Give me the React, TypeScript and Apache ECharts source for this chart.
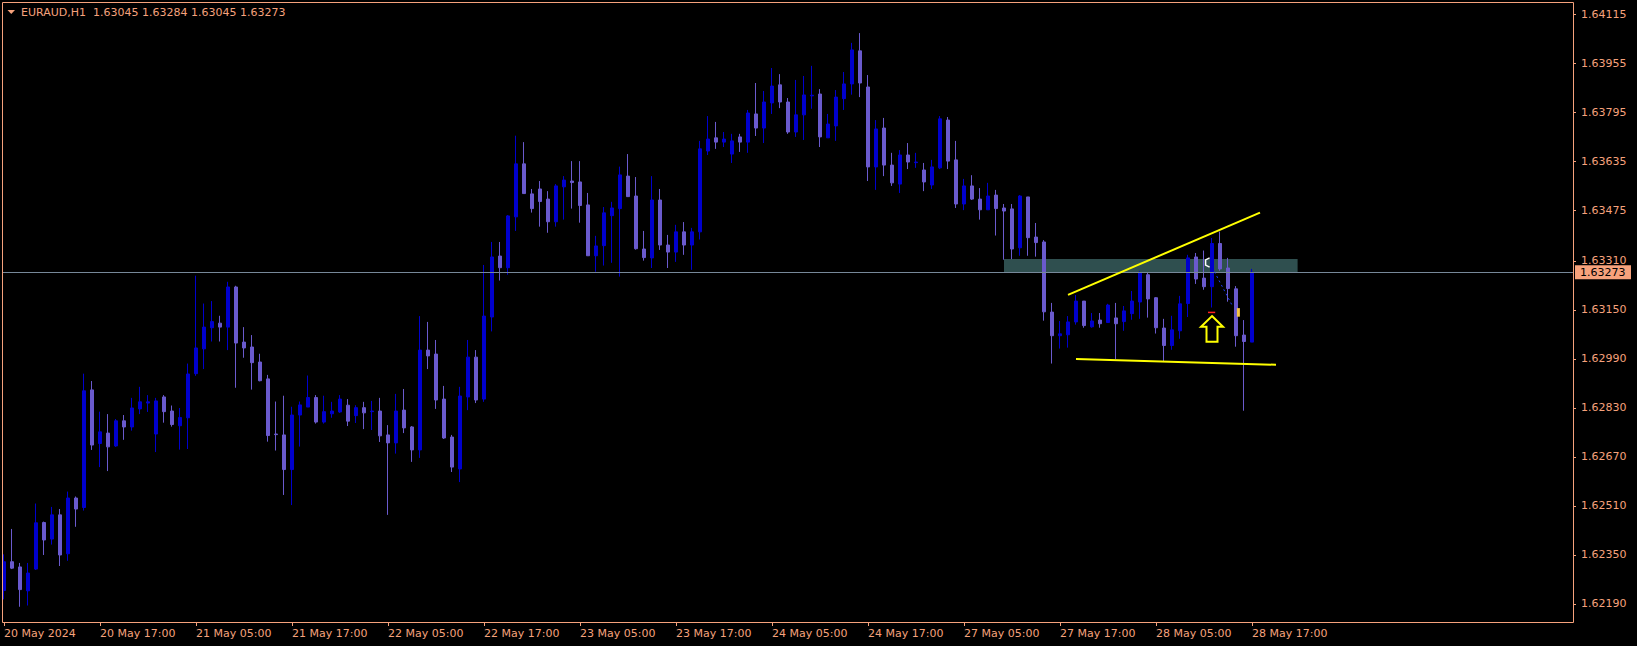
import React, { useEffect, useRef } from "react";
import * as echarts from "echarts";

const SYMBOL = "EURAUD";
const TIMEFRAME = "H1";

const tickLabels = [
  "20 May 2024", "20 May 17:00", "21 May 05:00", "21 May 17:00", "22 May 05:00",
  "22 May 17:00", "23 May 05:00", "23 May 17:00", "24 May 05:00", "24 May 17:00",
  "27 May 05:00", "27 May 17:00", "28 May 05:00", "28 May 17:00",
];

const priceTicks = [
  1.64115, 1.63955, 1.63795, 1.63635, 1.63475, 1.6331, 1.6315, 1.6299, 1.6283,
  1.6267, 1.6251, 1.6235, 1.6219,
];

const opens = [
  1.62234, 1.62328, 1.62311, 1.62233, 1.62304, 1.62456, 1.62402, 1.62481, 1.62354, 1.62536,
  1.62505, 1.62889, 1.62714, 1.62748, 1.62706, 1.62788, 1.62768, 1.62827, 1.62846, 1.62745,
  1.62866, 1.6282, 1.62772, 1.62798, 1.62942, 1.63023, 1.63092, 1.63107, 1.63094, 1.63225,
  1.63045, 1.63029, 1.6298, 1.62925, 1.62745, 1.62742, 1.62629, 1.62807, 1.62833, 1.62864,
  1.62784, 1.62811, 1.62817, 1.62839, 1.62805, 1.62831, 1.62818, 1.6282, 1.62742, 1.62716,
  1.62823, 1.62768, 1.62693, 1.63019, 1.63006, 1.62859, 1.62735, 1.62631, 1.62866, 1.62996,
  1.62859, 1.63127, 1.63326, 1.63288, 1.63454, 1.63627, 1.63529, 1.63545, 1.63512, 1.63438,
  1.63552, 1.63571, 1.63568, 1.63493, 1.63327, 1.6336, 1.63458, 1.63481, 1.63587, 1.63522,
  1.63349, 1.6332, 1.63509, 1.63362, 1.63339, 1.63405, 1.63362, 1.63405, 1.63669, 1.63712,
  1.63698, 1.63659, 1.63715, 1.63698, 1.6379, 1.63744, 1.63826, 1.63885, 1.63829, 1.63731,
  1.63787, 1.63849, 1.63855, 1.63712, 1.63751, 1.6384, 1.63888, 1.63996, 1.63878, 1.63617,
  1.63744, 1.63623, 1.63561, 1.63656, 1.63631, 1.63607, 1.63558, 1.63614, 1.6377, 1.6364,
  1.63496, 1.63555, 1.63512, 1.63477, 1.63525, 1.63483, 1.6348, 1.63353, 1.63519, 1.63388,
  1.63372, 1.63143, 1.63066, 1.63069, 1.63111, 1.63179, 1.63095, 1.63117, 1.63109, 1.63124,
  1.63112, 1.63138, 1.63176, 1.63265, 1.6319, 1.63091, 1.63034, 1.63082, 1.63171, 1.63323,
  1.63254, 1.63226, 1.63367, 1.63287, 1.63219, 1.63068, 1.63045,
];

const highs = [
  1.62352, 1.62435, 1.62324, 1.62324, 1.62518, 1.62459, 1.62507, 1.625, 1.62557, 1.62541,
  1.62942, 1.62918, 1.62818, 1.6281, 1.62794, 1.62807, 1.62863, 1.62899, 1.62872, 1.62863,
  1.62872, 1.62838, 1.6283, 1.62975, 1.63262, 1.63171, 1.63179, 1.63131, 1.63242, 1.63229,
  1.63094, 1.63068, 1.63007, 1.62938, 1.62851, 1.6287, 1.62834, 1.62851, 1.62936, 1.62872,
  1.6287, 1.6285, 1.62872, 1.62859, 1.62839, 1.6285, 1.62853, 1.62863, 1.62774, 1.62876,
  1.62892, 1.62771, 1.6313, 1.63111, 1.63052, 1.62902, 1.62742, 1.62899, 1.63052, 1.63019,
  1.63297, 1.63372, 1.63372, 1.6346, 1.63719, 1.63698, 1.63545, 1.63571, 1.63538, 1.63561,
  1.63587, 1.63636, 1.63636, 1.63532, 1.63392, 1.63486, 1.63503, 1.63618, 1.63659, 1.63584,
  1.63408, 1.63587, 1.63545, 1.63395, 1.63428, 1.63437, 1.63418, 1.63702, 1.63783, 1.63764,
  1.63731, 1.63725, 1.63725, 1.63803, 1.63891, 1.63865, 1.6394, 1.6392, 1.63842, 1.63901,
  1.63914, 1.63947, 1.63871, 1.6379, 1.63868, 1.63927, 1.64022, 1.64054, 1.63917, 1.6377,
  1.63777, 1.63663, 1.63672, 1.63695, 1.63663, 1.6363, 1.6364, 1.63783, 1.6378, 1.63702,
  1.63578, 1.6359, 1.63548, 1.63565, 1.63542, 1.63496, 1.63496, 1.63525, 1.63519, 1.63434,
  1.63378, 1.63173, 1.63114, 1.6313, 1.63199, 1.63179, 1.6314, 1.6314, 1.6317, 1.63173,
  1.63163, 1.63212, 1.63277, 1.63272, 1.63192, 1.63121, 1.63131, 1.63196, 1.6333, 1.63336,
  1.63344, 1.63385, 1.63406, 1.6332, 1.63228, 1.63117, 1.63284,
];

const lows = [
  1.62205, 1.62304, 1.62181, 1.62185, 1.62301, 1.6235, 1.62384, 1.62314, 1.62331, 1.62442,
  1.62495, 1.62693, 1.62637, 1.62624, 1.62703, 1.62726, 1.62756, 1.6281, 1.62817, 1.62686,
  1.62782, 1.62769, 1.62694, 1.62696, 1.62935, 1.62957, 1.63047, 1.63047, 1.63019, 1.62896,
  1.62994, 1.6289, 1.62917, 1.6272, 1.62691, 1.62546, 1.62513, 1.62704, 1.62833, 1.62779,
  1.62779, 1.62798, 1.62814, 1.62771, 1.62781, 1.62761, 1.62758, 1.62719, 1.62481, 1.62681,
  1.62748, 1.62654, 1.62667, 1.62957, 1.62827, 1.62729, 1.62621, 1.62588, 1.62823, 1.62846,
  1.6285, 1.6308, 1.63246, 1.63265, 1.63408, 1.6353, 1.63468, 1.63422, 1.63402, 1.63422,
  1.63445, 1.63481, 1.63435, 1.63327, 1.63275, 1.63295, 1.63304, 1.63259, 1.6352, 1.63347,
  1.63311, 1.63287, 1.63346, 1.63287, 1.63307, 1.6333, 1.63281, 1.6338, 1.63656, 1.63676,
  1.63682, 1.6363, 1.63666, 1.63663, 1.63718, 1.63695, 1.6379, 1.63809, 1.63725, 1.63715,
  1.63705, 1.63807, 1.63682, 1.63712, 1.63702, 1.63803, 1.63853, 1.63845, 1.63571, 1.63542,
  1.63587, 1.63555, 1.63532, 1.6361, 1.63614, 1.63538, 1.63545, 1.6361, 1.6361, 1.63483,
  1.63476, 1.63509, 1.63445, 1.63477, 1.63393, 1.63314, 1.63316, 1.63327, 1.63327, 1.63324,
  1.63115, 1.62975, 1.63024, 1.63027, 1.63102, 1.63092, 1.63092, 1.63092, 1.63109, 1.6299,
  1.63082, 1.63118, 1.63121, 1.63125, 1.63073, 1.62981, 1.6302, 1.63056, 1.63127, 1.63235,
  1.63216, 1.63158, 1.63278, 1.63177, 1.6303, 1.62821, 1.63045,
];

const closes = [
  1.62328, 1.62307, 1.62237, 1.62291, 1.62455, 1.62399, 1.62481, 1.6235, 1.62536, 1.625,
  1.62886, 1.62709, 1.62752, 1.62703, 1.62788, 1.62768, 1.6283, 1.6285, 1.6285, 1.62853,
  1.62818, 1.62776, 1.62799, 1.62941, 1.63026, 1.63094, 1.63112, 1.63094, 1.63225, 1.63042,
  1.63026, 1.62978, 1.62919, 1.6274, 1.62743, 1.62629, 1.62807, 1.6284, 1.62864, 1.62784,
  1.62818, 1.6282, 1.62859, 1.62787, 1.62831, 1.62814, 1.6282, 1.62739, 1.62716, 1.6282,
  1.62765, 1.62693, 1.63019, 1.63, 1.62856, 1.62732, 1.62637, 1.62869, 1.62996, 1.62856,
  1.6313, 1.63323, 1.63288, 1.63457, 1.63627, 1.6353, 1.63481, 1.63504, 1.63438, 1.63555,
  1.63574, 1.63566, 1.63491, 1.63327, 1.63359, 1.63467, 1.63483, 1.63591, 1.6352, 1.6335,
  1.63321, 1.63509, 1.63362, 1.63339, 1.63405, 1.63362, 1.63405, 1.63676, 1.63708, 1.63698,
  1.63708, 1.63702, 1.63698, 1.63793, 1.63744, 1.63829, 1.63881, 1.63829, 1.63731, 1.63787,
  1.63852, 1.63851, 1.63715, 1.63757, 1.63845, 1.63888, 1.63999, 1.63891, 1.63617, 1.63741,
  1.63623, 1.63565, 1.63656, 1.63633, 1.63633, 1.63568, 1.63617, 1.63774, 1.63636, 1.63496,
  1.63555, 1.63512, 1.63477, 1.63522, 1.63481, 1.63473, 1.63349, 1.63522, 1.63386, 1.6337,
  1.63144, 1.63066, 1.63072, 1.63111, 1.63179, 1.63099, 1.63114, 1.63105, 1.63166, 1.63105,
  1.63147, 1.63179, 1.63272, 1.63186, 1.63092, 1.63034, 1.63085, 1.6317, 1.6332, 1.63251,
  1.63226, 1.63367, 1.63284, 1.6322, 1.63066, 1.63047, 1.63273,
];

// chart objects (bar index, price)
const zoneBox = { fromBar: 125, toBar: 161.7, top: 1.63316, bottom: 1.63272 };
const upperTrend = [[133, 1.63199], [157, 1.63468]];
const lowerTrend = [[134, 1.6299], [159, 1.62971]];
const arrowTip = [151, 1.6313];
const redDash = [[150.5, 1.63142], [151.4, 1.63142]];
const orderMarker = { bar: 154.3, top: 1.63156, bottom: 1.63128 };
const tradeLine = [[151.3, 1.63275], [153.6, 1.63161]];
const whiteMark = { bar: 150.2, top: 1.6332, bottom: 1.6329 };

const SALMON = "#F6A27C";
const BULL = "#0000CD";
const BEAR = "#6A5ACD";
const FONT = "DejaVu Sans";
const Y_MIN = 1.621312;
const Y_MAX = 1.641555;
const CATEGORY_COUNT = 196;

export default function App() {
  const ref = useRef<HTMLDivElement>(null);

  useEffect(() => {
    if (!ref.current) return;
    const chart = echarts.init(ref.current, null, { renderer: "svg", width: 1637, height: 646 });
    const lastIndex = opens.length - 1;
    const cats = Array.from({ length: CATEGORY_COUNT }, (_, i) => String(i));
    const candles = opens.map((o, i) => [o, closes[i], lows[i], highs[i]]);
    const isTick = (i: number) => i % 12 === 0 && i <= lastIndex;

    chart.setOption({
      animation: false,
      backgroundColor: "#000000",
      grid: { left: 0, top: 2, width: 1568, height: 620, containLabel: false },
      xAxis: {
        type: "category",
        data: cats,
        boundaryGap: true,
        axisLine: { show: false },
        axisTick: {
          show: true,
          alignWithLabel: true,
          interval: (i: number) => isTick(i),
          length: 4,
          lineStyle: { color: SALMON, width: 1 },
        },
        axisLabel: {
          interval: (i: number) => isTick(i),
          formatter: (v: string) => {
            const n = Number(v);
            return n % 12 === 0 ? tickLabels[n / 12] ?? "" : "";
          },
          color: SALMON,
          align: "left",
          margin: 6,
          fontFamily: FONT,
          fontSize: 11,
        },
        splitLine: { show: false },
      },
      yAxis: {
        type: "value",
        position: "right",
        offset: 5,
        min: Y_MIN,
        max: Y_MAX,
        scale: true,
        axisLine: { show: false },
        axisTick: {
          show: true,
          customValues: priceTicks,
          length: 3,
          lineStyle: { color: SALMON, width: 1 },
        },
        axisLabel: {
          customValues: priceTicks,
          formatter: (v: number) => v.toFixed(5),
          color: SALMON,
          margin: 8,
          fontFamily: FONT,
          fontSize: 11,
          hideOverlap: false,
        },
        splitLine: { show: false },
      },
      series: [
        {
          type: "candlestick",
          data: candles,
          barWidth: 4,
          itemStyle: {
            color: BULL,
            color0: BEAR,
            borderColor: BULL,
            borderColor0: BEAR,
            borderWidth: 1,
          },
        },
      ],
    });

    const conv = (i: number, p: number) => {
      const a = chart.convertToPixel({ xAxisIndex: 0, yAxisIndex: 0 }, [0, p]) as number[];
      const b = chart.convertToPixel({ xAxisIndex: 0, yAxisIndex: 0 }, [1, p]) as number[];
      return [a[0] + (b[0] - a[0]) * i, a[1]];
    };

    const zTL = conv(zoneBox.fromBar, zoneBox.top);
    const zBR = conv(zoneBox.toBar, zoneBox.bottom);
    const u1 = conv(upperTrend[0][0], upperTrend[0][1]);
    const u2 = conv(upperTrend[1][0], upperTrend[1][1]);
    const l1 = conv(lowerTrend[0][0], lowerTrend[0][1]);
    const l2 = conv(lowerTrend[1][0], lowerTrend[1][1]);
    const tip = conv(arrowTip[0], arrowTip[1]);
    const rd1 = conv(redDash[0][0], redDash[0][1]);
    const rd2 = conv(redDash[1][0], redDash[1][1]);
    const omT = conv(orderMarker.bar, orderMarker.top);
    const omB = conv(orderMarker.bar, orderMarker.bottom);
    const tl1 = conv(tradeLine[0][0], tradeLine[0][1]);
    const tl2 = conv(tradeLine[1][0], tradeLine[1][1]);
    const wmT = conv(whiteMark.bar, whiteMark.top);
    const wmB = conv(whiteMark.bar, whiteMark.bottom);
    const lastPx = conv(0, closes[lastIndex]);
    const py = Math.round(lastPx[1]) + 0.5;

    const [tx, ty] = tip;
    const arrowPts = [
      [tx, ty], [tx + 11, ty + 10.7], [tx + 5.5, ty + 10.7], [tx + 5.5, ty + 25.7],
      [tx - 5.5, ty + 25.7], [tx - 5.5, ty + 10.7], [tx - 11, ty + 10.7],
    ];

    const fmt = (v: number) => v.toFixed(5);
    const header = `${SYMBOL},${TIMEFRAME}  ${fmt(opens[lastIndex])} ${fmt(highs[lastIndex])} ${fmt(lows[lastIndex])} ${fmt(closes[lastIndex])}`;

    chart.setOption({
      graphic: [
        {
          type: "rect",
          z: 0,
          silent: true,
          shape: { x: zTL[0], y: zTL[1], width: zBR[0] - zTL[0], height: zBR[1] - zTL[1] },
          style: { fill: "#2F4F4F" },
        },
        {
          type: "line",
          z: 5,
          silent: true,
          shape: { x1: 2, y1: py, x2: 1573, y2: py },
          style: { stroke: "#778899", lineWidth: 1 },
        },
        {
          type: "line",
          z: 10,
          shape: { x1: u1[0], y1: u1[1], x2: u2[0], y2: u2[1] },
          style: { stroke: "#FFFF00", lineWidth: 2 },
        },
        {
          type: "line",
          z: 10,
          shape: { x1: l1[0], y1: l1[1], x2: l2[0], y2: l2[1] },
          style: { stroke: "#FFFF00", lineWidth: 2 },
        },
        {
          type: "polygon",
          z: 10,
          shape: { points: arrowPts },
          style: { stroke: "#FFFF00", fill: "none", lineWidth: 2 },
        },
        {
          type: "line",
          z: 10,
          shape: { x1: rd1[0], y1: rd1[1], x2: rd2[0], y2: rd2[1] },
          style: { stroke: "#FF2020", lineWidth: 1.5 },
        },
        {
          type: "line",
          z: 10,
          shape: { x1: tl1[0], y1: tl1[1], x2: tl2[0], y2: tl2[1] },
          style: { stroke: "#2040FF", lineWidth: 1, lineDash: [2, 3] },
        },
        {
          type: "rect",
          z: 10,
          shape: { x: omT[0] - 1.5, y: omT[1], width: 3, height: omB[1] - omT[1] },
          style: { fill: "#F5C542" },
        },
        {
          type: "polyline",
          z: 10,
          shape: {
            points: [
              [wmT[0] + 4, wmT[1]], [wmT[0], wmT[1] + 2], [wmB[0], wmB[1] - 2], [wmB[0] + 4, wmB[1]],
            ],
          },
          style: { stroke: "#FFFFFF", lineWidth: 1.5, fill: "none" },
        },
        {
          type: "rect",
          z: 20,
          silent: true,
          shape: { x: 2.5, y: 2.5, width: 1571, height: 620 },
          style: { fill: "none", stroke: SALMON, lineWidth: 1 },
        },
        {
          type: "polygon",
          z: 20,
          shape: { points: [[7.5, 10], [15, 10], [11.25, 14]] },
          style: { fill: SALMON },
        },
        {
          type: "text",
          z: 20,
          x: 21,
          y: 12,
          style: {
            text: header,
            fill: SALMON,
            font: `11px "${FONT}"`,
            verticalAlign: "middle",
            textAlign: "left",
          },
        },
        {
          type: "rect",
          z: 20,
          shape: { x: 1575, y: lastPx[1] - 7, width: 56, height: 14 },
          style: { fill: SALMON },
        },
        {
          type: "text",
          z: 21,
          x: 1580,
          y: lastPx[1],
          style: {
            text: fmt(closes[lastIndex]),
            fill: "#000000",
            font: `11px "${FONT}"`,
            verticalAlign: "middle",
            textAlign: "left",
          },
        },
      ],
    });

    return () => chart.dispose();
  }, []);

  return (
    <div
      ref={ref}
      style={{ position: "fixed", left: 0, top: 0, width: 1637, height: 646, background: "#000" }}
    />
  );
}
